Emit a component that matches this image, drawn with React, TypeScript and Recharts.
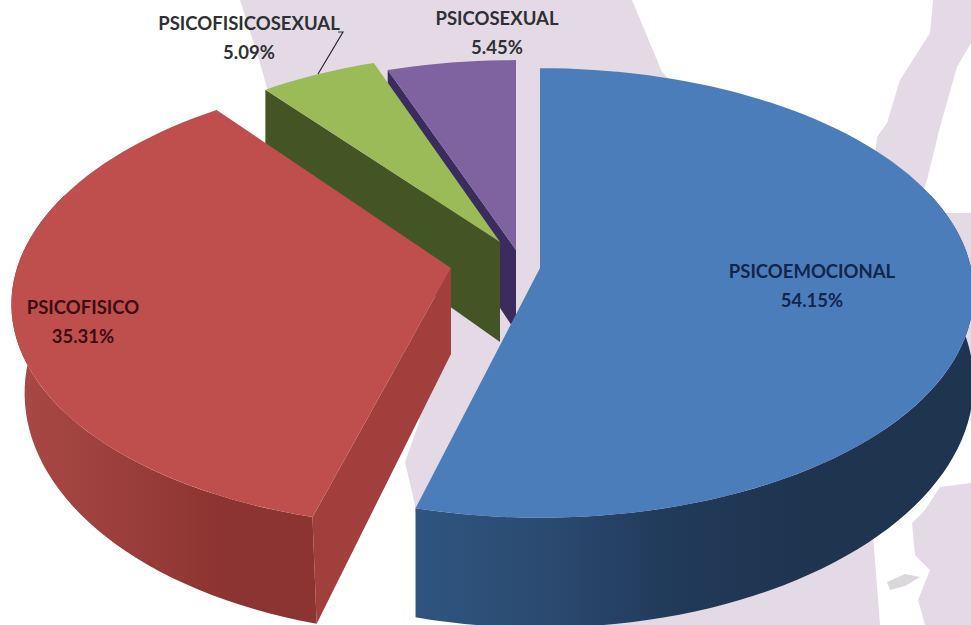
import { PieChart, Pie } from "recharts";

// drawn anticlockwise from 12 o'clock so that the slices overlap back to front
const categories = ["PSICOSEXUAL", "PSICOFISICOSEXUAL", "PSICOFISICO", "PSICOEMOCIONAL"];
const percentages = [5.45, 5.09, 35.31, 54.15];

const chartData = categories.map((name, i) => ({ name, value: percentages[i] }));

// look of each exploded slice: apex offset from the pie centre, radii, wall depth, colours
const sliceLooks: Record<string, any> = {
  PSICOFISICOSEXUAL: { dx: -40, dy: -26, rx: 415, ry: 210, k: 0.111, depth: 100, lean: 1, shear: 0, top: "#9bbb59", cut: "#435524" },
  PSICOSEXUAL: { dx: -24, dy: -18, rx: 422, ry: 211, k: 0.111, depth: 82, lean: 1, shear: 0, top: "#7f63a1", cut: "#3a2d5e" },
  PSICOEMOCIONAL: { dx: 0, dy: 0, rx: 431, ry: 222, k: 0.111, depth: 88, lean: 1, shear: 0, top: "#4c7dbb", wall: ["#2f5580", "#2b4a70", "#213a5a", "#1f344f"] },
  PSICOFISICO: { dx: -89, dy: 0, rx: 434, ry: 222.7, k: 0.141, depth: 86, lean: 0.97, shear: -0.036, top: "#bf4f4c", cut: "#a03f3c", wall: ["#a84844", "#9c3f3c", "#8c3431", "#8c3431"] },
};

const labelSpots: Record<string, any> = {
  PSICOFISICOSEXUAL: { x: 249, y: 25, fill: "#2e3033" },
  PSICOSEXUAL: { x: 497, y: 20, fill: "#2e3033" },
  PSICOEMOCIONAL: { x: 812, y: 273, fill: "#11264b" },
  PSICOFISICO: { x: 83, y: 309, fill: "#3d0d10" },
};

const mapPatches = [
  "240,0 632,0 662,72 900,300 868,470 880,625 560,625 418,560 415,505 405,462 420,420 300,200 267,88 260,63",
  "933,0 971,0 971,43 957,67 940,127 927,180 920,200 870,200 877,137 887,123 900,80 930,33",
  "945,213 971,213 971,395 950,400",
  "971,483 940,487 925,510 912,523 915,555 930,570 918,600 925,625 971,625",
];

function pointOn(look: any, cx: number, cy: number, deg: number) {
  const a = (deg * Math.PI) / 180;
  const s = Math.sin(a);
  const c = Math.cos(a);
  const den = 1 + look.k * c;
  const y = (-look.ry * c) / den;
  const x = (look.rx * s) / den + look.shear * y;
  return { x: cx + look.dx + x, y: cy + look.dy + y, depth: look.depth / (1 + 0.2 * c) };
}

function arcPoints(look: any, cx: number, cy: number, from: number, to: number) {
  const pts = [];
  const steps = Math.max(2, Math.ceil(Math.abs(to - from) / 2));
  for (let i = 0; i <= steps; i++) pts.push(pointOn(look, cx, cy, from + ((to - from) * i) / steps));
  return pts;
}

function SliceShape(props: any) {
  const { cx, cy, startAngle, endAngle, name } = props;
  const look = sliceLooks[name];
  // recharts angles run anticlockwise from east, here degrees run clockwise from north
  let a1 = 90 - endAngle;
  let a2 = 90 - startAngle;
  while (a1 < 0) {
    a1 += 360;
    a2 += 360;
  }
  const apexX = cx + look.dx;
  const apexY = cy + look.dy;
  const topArc = arcPoints(look, cx, cy, a1, a2);
  const topPath = `M${apexX},${apexY} ` + topArc.map((p) => `L${p.x},${p.y}`).join(" ") + " Z";

  const lower = (p: any) => `${apexX + (p.x - apexX) * look.lean},${p.y + p.depth}`;

  let wallPath = null;
  const w1 = Math.max(a1, 70);
  const w2 = Math.min(a2, 290);
  if (w2 > w1) {
    const wallArc = arcPoints(look, cx, cy, w1, w2);
    wallPath =
      "M" + wallArc.map((p) => `${p.x},${p.y}`).join(" L") + " L" + wallArc.slice().reverse().map(lower).join(" L") + " Z";
  }

  let cutPath = null;
  if (a1 > 100) {
    const edge = pointOn(look, cx, cy, a1);
    cutPath = `M${apexX},${apexY} L${edge.x},${edge.y} L${lower(edge)} L${apexX},${apexY + look.depth} Z`;
  }

  const gradId = `wall-${name}`;
  return (
    <g>
      {look.wall && (
        <defs>
          <linearGradient id={gradId} gradientUnits="userSpaceOnUse" x1={name === "PSICOFISICO" ? 20 : 417} x2={name === "PSICOFISICO" ? 320 : 800} y1={0} y2={0}>
            {look.wall.map((c: string, i: number) => (
              <stop key={i} offset={i / 3} stopColor={c} />
            ))}
          </linearGradient>
        </defs>
      )}
      {cutPath && <path d={cutPath} fill={look.cut} />}
      {wallPath && <path d={wallPath} fill={`url(#${gradId})`} />}
      <path d={topPath} fill={look.top} />
    </g>
  );
}

function SliceLabel(props: any) {
  const { name, value } = props;
  const spot = labelSpots[name];
  const style = { fontFamily: "Lato, sans-serif", fontSize: 18.5, fontWeight: 700 };
  return (
    <g>
      {name === "PSICOFISICOSEXUAL" && <polyline points="338,32 343,32 318,74" fill="none" stroke="#2b2b2b" strokeWidth={1.2} />}
      <text x={spot.x} y={spot.y} textAnchor="middle" dominantBaseline="middle" fill={spot.fill} style={style}>
        {name}
      </text>
      <text x={spot.x} y={spot.y + 29} textAnchor="middle" dominantBaseline="middle" fill={spot.fill} style={style}>
        {value.toFixed(2)}%
      </text>
    </g>
  );
}

export default function App() {
  return (
    <div style={{ position: "absolute", left: 0, top: 0, width: 971, height: 625, background: "#fff", overflow: "hidden" }}>
      <svg width={971} height={625} style={{ position: "absolute", left: 0, top: 0 }}>
        {mapPatches.map((pts, i) => (
          <polygon key={i} points={pts} fill="#e3dae6" />
        ))}
        <polygon points="887,582 905,574 920,577 905,586 890,590" fill="#dbd8dc" />
      </svg>
      <div style={{ position: "absolute", left: 0, top: 0 }}>
        <PieChart width={971} height={625} margin={{ top: 0, right: 0, bottom: 0, left: 0 }}>
          <Pie
            data={chartData}
            dataKey="value"
            nameKey="name"
            cx={540}
            cy={268}
            outerRadius={200}
            startAngle={90}
            endAngle={450}
            stroke="none"
            shape={SliceShape}
            label={SliceLabel}
            labelLine={false}
            isAnimationActive={false}
          />
        </PieChart>
      </div>
    </div>
  );
}
